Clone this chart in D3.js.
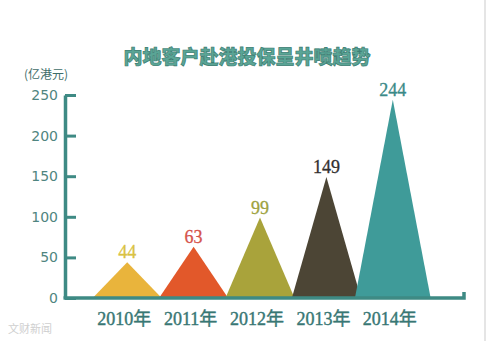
<!DOCTYPE html>
<html>
<head>
<meta charset="utf-8">
<script src="https://cdn.jsdelivr.net/npm/d3@7"></script>
<style>
  html, body { margin: 0; padding: 0; background: #fff; }
  svg { display: block; }
</style>
</head>
<body>
<svg id="chart" width="488" height="341"></svg>
<script>
// Data
const years = ["2010年", "2011年", "2012年", "2013年", "2014年"];
const values = [44, 63, 99, 149, 244];
const colors = ["#e9b43c", "#e2582a", "#a9a33b", "#4c4535", "#3f9b99"];
const labelColors = ["#d9c243", "#d5524a", "#9ea23f", "#333030", "#3a8a88"];
const yTicks = [0, 50, 100, 150, 200, 250];

const titleText = "内地客户赴港投保呈井喷趋势";
const unitText = "(亿港元)";

// Layout
const axisColor = "#3e8a84";
const axisX = 65;
const baseY = 298;
const rightEnd = 464;

const svg = d3.select("#chart");

// right border of the picture
svg.append("line")
    .attr("x1", 485).attr("x2", 485)
    .attr("y1", 0).attr("y2", 341)
    .attr("stroke", "#dcdcdc")
    .attr("stroke-width", 1.5);

// Scales
const x = d3.scaleBand().domain(years).range([94, 426]).padding(0);
const y = d3.scaleLinear().domain([0, 250]).range([baseY, 95]);

// Title
svg.append("text")
    .attr("x", 247)
    .attr("y", 64)
    .attr("text-anchor", "middle")
    .style("font-family", "'Noto Sans CJK SC'")
    .style("font-weight", 900)
    .style("font-size", "19px")
    .attr("fill", "#5aa596")
    .attr("stroke", "#3c7d72")
    .attr("stroke-width", 0.7)
    .text(titleText);

// Unit
svg.append("text")
    .attr("x", 24)
    .attr("y", 79)
    .style("font-family", "'Noto Sans CJK SC'")
    .style("font-size", "12px")
    .attr("fill", "#3f6d6a")
    .text(unitText);

// Triangles
const tri = svg.append("g");
years.forEach((yr, i) => {
    const cx = x(yr) + x.bandwidth() / 2;
    const hw = x.bandwidth() * (i === 4 ? 0.57 : 0.52);
    tri.append("path")
        .attr("d", `M${cx - hw},${y(0)}L${cx},${y(values[i])}L${cx + hw},${y(0)}Z`)
        .attr("fill", colors[i]);

    tri.append("text")
        .attr("x", cx)
        .attr("y", y(values[i]) - 4)
        .attr("text-anchor", "middle")
        .style("font-family", "'Liberation Serif'")
        .style("font-size", "18px")
        .attr("fill", labelColors[i])
        .attr("stroke", labelColors[i])
        .attr("stroke-width", 0.3)
        .text(values[i]);

    svg.append("text")
        .attr("x", cx - 3)
        .attr("y", 325)
        .attr("text-anchor", "middle")
        .style("font-family", "'Liberation Serif', 'Noto Sans CJK SC'")
        .style("font-size", "18px")
        .attr("fill", "#387774")
        .attr("stroke", "#387774")
        .attr("stroke-width", 0.4)
        .text(yr);
});

// Y axis
const yAxis = svg.append("g")
    .attr("transform", `translate(${axisX},0)`)
    .call(d3.axisLeft(y).tickValues(yTicks).tickSize(-11).tickSizeOuter(0).tickPadding(7));

yAxis.select(".domain")
    .attr("stroke", axisColor)
    .attr("stroke-width", 3.5);
yAxis.selectAll(".tick line")
    .attr("stroke", axisColor)
    .attr("stroke-width", 3);
yAxis.selectAll(".tick text")
    .style("font-family", "'DejaVu Sans'")
    .style("font-size", "14px")
    .attr("fill", "#4f8580");

// X baseline with upturned end
svg.append("path")
    .attr("d", `M${axisX - 1.5},${baseY}L${rightEnd},${baseY}L${rightEnd},${baseY - 6}`)
    .attr("fill", "none")
    .attr("stroke", axisColor)
    .attr("stroke-width", 3.5);

// Watermark
svg.append("text")
    .attr("x", 8)
    .attr("y", 333)
    .style("font-family", "'Noto Sans CJK SC'")
    .style("font-size", "11px")
    .attr("fill", "#cfcfcf")
    .text("文财新闻");
</script>
</body>
</html>
